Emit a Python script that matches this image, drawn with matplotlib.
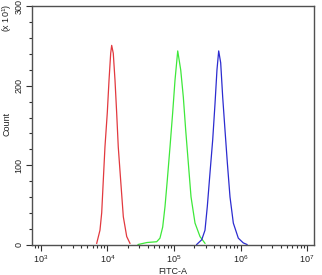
import numpy as np
import matplotlib
matplotlib.use("Agg")
import matplotlib.pyplot as plt
from matplotlib.ticker import FixedLocator, NullFormatter, MultipleLocator

plt.rcParams['font.family'] = ['Liberation Sans', 'DejaVu Sans']
plt.rcParams['mathtext.fontset'] = 'custom'
plt.rcParams['mathtext.rm'] = 'Liberation Sans'
plt.rcParams['mathtext.it'] = 'Liberation Sans'

# log10(FITC-A) positions and counts (x10^1)
red_log = [3.838, 3.887, 3.913, 3.937, 3.962, 3.997, 4.023, 4.048, 4.063,
           4.087, 4.113, 4.138, 4.162, 4.198, 4.238, 4.289, 4.338]
red_cnt = [1.5, 18, 40, 81, 123, 166, 207, 241, 251,
           241, 207, 166, 123, 81, 35, 10, 1.5]

green_log = [4.46, 4.594, 4.740, 4.789, 4.830, 4.865, 4.899, 4.940, 4.980, 5.015,
             5.056, 5.101, 5.140, 5.176, 5.215, 5.256, 5.316, 5.391, 5.466]
green_cnt = [0, 2.5, 3.5, 8, 22, 48, 81, 123, 166, 207,
             244, 220, 186, 144, 103, 60, 27, 10, 1.5]

blue_log = [5.341, 5.417, 5.466, 5.501, 5.541, 5.582, 5.617, 5.646, 5.672,
            5.702, 5.732, 5.767, 5.802, 5.842, 5.892, 5.967, 6.042, 6.098]
blue_cnt = [0, 6, 18, 48, 90, 132, 178, 220, 244,
            229, 186, 144, 103, 60, 27, 8, 2, 0]

x_ticks = [1e3, 1e4, 1e5, 1e6, 1e7]
x_tick_labels = [r'$\mathregular{10^{3}}$', r'$\mathregular{10^{4}}$', r'$\mathregular{10^{5}}$',
                 r'$\mathregular{10^{6}}$', r'$\mathregular{10^{7}}$']
y_ticks = [0, 100, 200, 300]

fig = plt.figure(figsize=(3.22, 2.75), dpi=100)
ax = fig.add_axes([32/322, 1 - 244.5/275, (314-32)/322, (244.5-5.7)/275])

ax.plot(10**np.array(red_log), red_cnt, color='#e2393f', lw=0.9)
ax.plot(10**np.array(green_log), green_cnt, color='#3ee83a', lw=0.9)
ax.plot(10**np.array(blue_log), blue_cnt, color='#2c2cd0', lw=0.9)

ax.set_xscale('log')
ax.set_xlim(10**2.865, 10**7.105)
ax.set_ylim(0, 301)

ax.xaxis.set_major_locator(FixedLocator(x_ticks))
ax.set_xticklabels(x_tick_labels)
minor = [m * 10**e for e in range(2, 8) for m in range(2, 10)]
ax.xaxis.set_minor_locator(FixedLocator(minor))
ax.xaxis.set_minor_formatter(NullFormatter())

ax.set_yticks(y_ticks)
ax.set_yticklabels([str(v) for v in y_ticks], rotation=90, va='center')
ax.yaxis.set_minor_locator(MultipleLocator(20))

for s in ax.spines.values():
    s.set_color('#505050')
    s.set_linewidth(1.0)

ax.tick_params(which='major', direction='out', length=4, width=0.8, color='#303030',
               labelsize=6.5, pad=2, labelcolor='#202020')
ax.tick_params(which='minor', direction='out', length=2.5, width=0.8, color='#303030')
ax.tick_params(axis='y', pad=2)

ax.set_xlabel('FITC-A', fontsize=6.5, labelpad=2, color='#202020')
fig.text(7/322, 1 - 124/275, 'Count', rotation=90, fontsize=6.5, ha='center', va='center', color='#202020')
fig.text(7/322, 1 - 18/275, r'(x 10$^\mathregular{1}$)', rotation=90, fontsize=6.5,
         ha='center', va='center', color='#202020')

fig.savefig('out.png', dpi=100)
